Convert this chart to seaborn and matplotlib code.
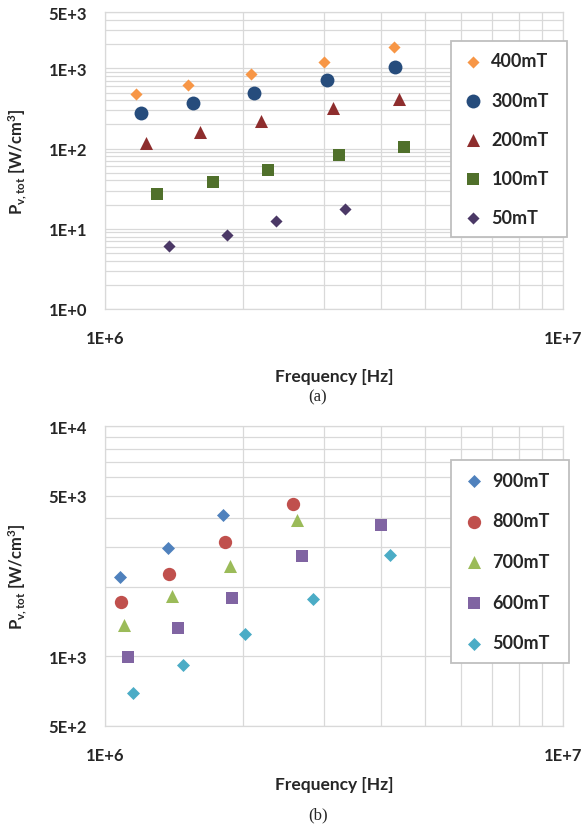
import matplotlib
matplotlib.use("Agg")
import matplotlib.pyplot as plt
import matplotlib.ticker as mticker
import seaborn as sns
import numpy as np

# ---------------- data (a) ----------------
labels_a = ["400mT", "300mT", "200mT", "100mT", "50mT"]
f_400 = [1.17e6, 1.52e6, 2.08e6, 3.01e6, 4.27e6]
p_400 = [476, 621, 845, 1216, 1848]
f_300 = [1.20e6, 1.56e6, 2.12e6, 3.05e6, 4.30e6]
p_300 = [281, 367, 500, 725, 1032]
f_200 = [1.23e6, 1.61e6, 2.19e6, 3.15e6, 4.38e6]
p_200 = [119, 159, 221, 319, 412]
f_100 = [1.30e6, 1.72e6, 2.27e6, 3.24e6, 4.50e6]
p_100 = [27.0, 38.5, 54.3, 82.7, 106]
f_50 = [1.38e6, 1.85e6, 2.36e6, 3.34e6]
p_50 = [6.1, 8.4, 12.4, 17.9]

# ---------------- data (b) ----------------
labels_b = ["900mT", "800mT", "700mT", "600mT", "500mT"]
f_900 = [1.08e6, 1.37e6, 1.81e6]
p_900 = [2223, 2954, 4122]
f_800 = [1.084e6, 1.38e6, 1.83e6, 2.57e6]
p_800 = [1720, 2284, 3136, 4616]
f_700 = [1.10e6, 1.40e6, 1.87e6, 2.62e6]
p_700 = [1370, 1827, 2466, 3920]
f_600 = [1.12e6, 1.44e6, 1.89e6, 2.69e6, 4.00e6]
p_600 = [991, 1330, 1795, 2743, 3740]
f_500 = [1.15e6, 1.48e6, 2.02e6, 2.85e6, 4.19e6]
p_500 = [692, 916, 1257, 1773, 2762]

# ticks
xticks = [1e6, 1e7]
xticklabels = ["1E+6", "1E+7"]
yticks_a = [1, 10, 100, 1000, 5000]
yticklabels_a = ["1E+0", "1E+1", "1E+2", "1E+3", "5E+3"]
yticks_b = [500, 1000, 5000, 10000]
yticklabels_b = ["5E+2", "1E+3", "5E+3", "1E+4"]

sns.set_style("white")
plt.rcParams["font.family"] = ["Lato", "DejaVu Sans"]
plt.rcParams["font.weight"] = "bold"
plt.rcParams["mathtext.fontset"] = "custom"
plt.rcParams["mathtext.rm"] = "Lato:bold"
plt.rcParams["mathtext.it"] = "Lato:bold"
plt.rcParams["mathtext.bf"] = "Lato:bold"

W, H = 587, 829
fig = plt.figure(figsize=(W / 100, H / 100), dpi=100)
ax_a = fig.add_axes([105 / W, 1 - 310 / H, 458 / W, 296.7 / H])
ax_b = fig.add_axes([105 / W, 1 - 726.7 / H, 458 / W, 299.4 / H])

grid_c = "#D9D9D9"

series_a = [
    (f_400, p_400, labels_a[0], "D", "#F79646", 38),
    (f_300, p_300, labels_a[1], "o", "#264C7C", 100),
    (f_200, p_200, labels_a[2], "^", "#8E2D2D", 88),
    (f_100, p_100, labels_a[3], "s", "#50702B", 70),
    (f_50, p_50, labels_a[4], "D", "#4B3866", 38),
]
series_b = [
    (f_900, p_900, labels_b[0], "D", "#4F81BD", 44),
    (f_800, p_800, labels_b[1], "o", "#C0504D", 92),
    (f_700, p_700, labels_b[2], "^", "#9BBB59", 88),
    (f_600, p_600, labels_b[3], "s", "#8064A2", 75),
    (f_500, p_500, labels_b[4], "D", "#4BACC6", 44),
]

def style_axes(ax, ylim, yticks, yticklabels, yminor):
    ax.set_xscale("log")
    ax.set_yscale("log")
    ax.set_xlim(1e6, 1e7)
    ax.set_ylim(*ylim)
    ax.xaxis.set_major_locator(mticker.FixedLocator(xticks))
    ax.xaxis.set_major_formatter(mticker.FixedFormatter(xticklabels))
    ax.xaxis.set_minor_locator(mticker.FixedLocator([k * 1e6 for k in range(2, 10)]))
    ax.xaxis.set_minor_formatter(mticker.NullFormatter())
    ax.yaxis.set_major_locator(mticker.FixedLocator(yticks))
    ax.yaxis.set_major_formatter(mticker.FixedFormatter(yticklabels))
    ax.yaxis.set_minor_locator(mticker.FixedLocator(yminor))
    ax.yaxis.set_minor_formatter(mticker.NullFormatter())
    ax.grid(which="both", color=grid_c, linewidth=0.9)
    ax.set_axisbelow(True)
    for sp in ax.spines.values():
        sp.set_color(grid_c)
        sp.set_linewidth(0.9)
    ax.tick_params(which="both", length=0)
    ax.tick_params(axis="x", pad=15, labelsize=12)
    ax.tick_params(axis="y", pad=13, labelsize=12)
    ax.set_xlabel("Frequency [Hz]", fontsize=12.5, fontweight="bold", va="center")
    ax.set_ylabel(r"$\mathregular{P_{v,tot}}$ [W/cm$\mathregular{^{3}}$]",
                  fontsize=12, fontweight="bold", va="center")
    ax.yaxis.set_label_coords(-0.19, 0.5)

minor_a = [m * 10 ** e for e in range(0, 4) for m in range(2, 10) if m * 10 ** e < 5000]
minor_b = [m * 1000 for m in range(2, 10)]

for ax, series in ((ax_a, series_a), (ax_b, series_b)):
    for fx, py, lab, mk, col, sz in series:
        sns.scatterplot(x=fx, y=py, marker=mk, color=col, s=sz, linewidth=0,
                        label=lab, ax=ax, zorder=3)

style_axes(ax_a, (1, 5000), yticks_a, yticklabels_a, minor_a)
style_axes(ax_b, (500, 10000), yticks_b, yticklabels_b, minor_b)
ax_a.xaxis.set_label_coords(0.5, -0.227)
ax_b.xaxis.set_label_coords(0.5, -0.195)

def make_legend(ax, bbox, spacing, pad):
    leg = ax.legend(loc="upper left", bbox_to_anchor=bbox, mode="expand",
                    borderaxespad=0, frameon=True, fancybox=False, framealpha=1,
                    edgecolor="#BFBFBF", borderpad=pad, labelspacing=spacing,
                    handlelength=1.3, handletextpad=0.35,
                    prop={"family": ["Lato", "DejaVu Sans"], "weight": "bold", "size": 13})
    leg.get_frame().set_linewidth(1.3)
    return leg

make_legend(ax_a, (0.7546, 0.236, 0.2546, 0.666), 1.23, 0.61)
make_legend(ax_b, (0.7546, 0.203, 0.2594, 0.685), 1.31, 0.66)

fig.text(318 / W, 1 - 397 / H, "(a)", ha="center", va="center",
         family=["Liberation Serif", "DejaVu Serif"], fontweight="normal", fontsize=12)
fig.text(318 / W, 1 - 815 / H, "(b)", ha="center", va="center",
         family=["Liberation Serif", "DejaVu Serif"], fontweight="normal", fontsize=12)

fig.savefig("out.png", dpi=100)
